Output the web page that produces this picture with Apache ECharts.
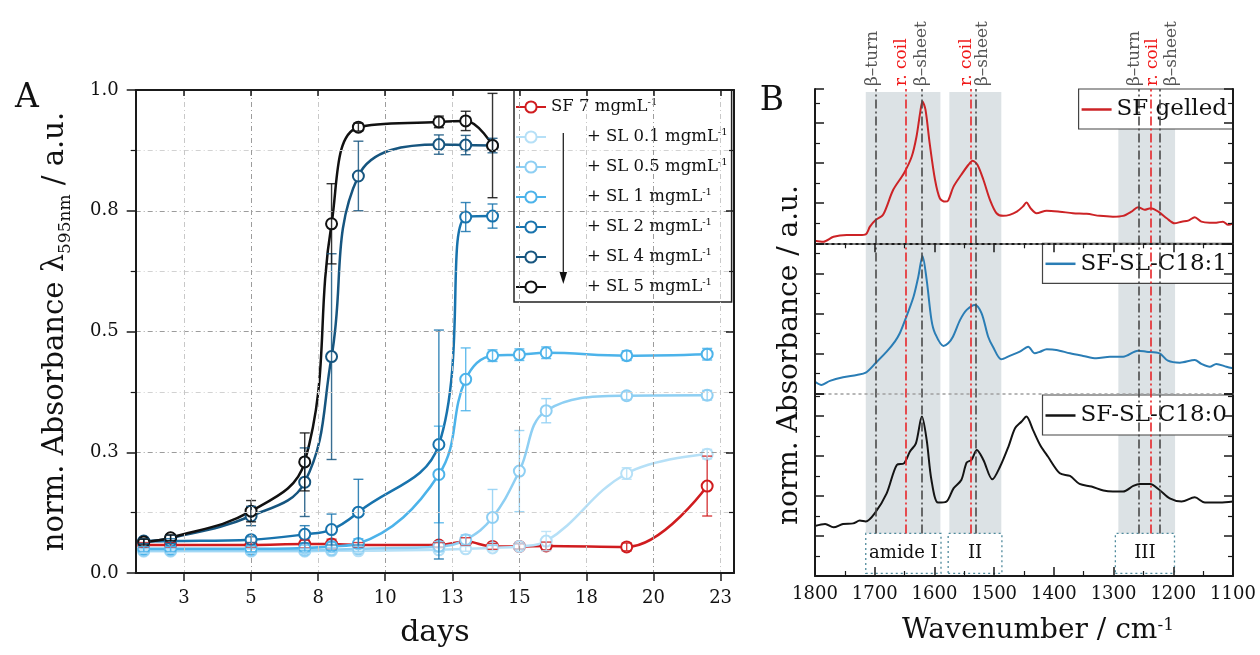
<!DOCTYPE html>
<html>
<head>
<meta charset="utf-8">
<script src="https://cdn.jsdelivr.net/npm/echarts@6/dist/echarts.min.js"></script>
<style>
html, body { margin: 0; padding: 0; background: #fff; }
#chart { width: 1260px; height: 655px; }
</style>
</head>
<body>
<div id="chart"></div>
<script>
var FONT = "'DejaVu Serif', 'Liberation Serif', serif"

// ---- panel A : absorbance over days ----
var days = [1, 2, 5, 7, 8, 9, 12, 13, 14, 15, 16, 19, 22]
var dayTicks = [2.5, 5, 7.5, 10, 12.5, 15, 17.5, 20, 22.5]

var sf7 = [0.058, 0.058, 0.058, 0.06, 0.06, 0.058, 0.058, 0.065, 0.055, 0.055, 0.056, 0.054, 0.18]
var sf7Err = [0.005, 0.005, 0.005, 0.008, 0.01, 0.005, 0.005, 0.008, 0.006, 0.006, 0.008, 0.008, 0.062]
var sl01 = [0.045, 0.045, 0.045, 0.045, 0.046, 0.046, 0.048, 0.05, 0.052, 0.055, 0.066, 0.206, 0.246]
var sl01Err = [0.004, 0.004, 0.004, 0.004, 0.004, 0.004, 0.005, 0.005, 0.006, 0.006, 0.02, 0.012, 0.01]
var sl05 = [0.047, 0.047, 0.047, 0.047, 0.048, 0.05, 0.055, 0.069, 0.115, 0.211, 0.336, 0.367, 0.368]
var sl05Err = [0.004, 0.004, 0.004, 0.004, 0.005, 0.005, 0.01, 0.01, 0.058, 0.084, 0.025, 0.008, 0.01]
var sl1 = [0.05, 0.05, 0.05, 0.052, 0.055, 0.061, 0.204, 0.401, 0.45, 0.452, 0.456, 0.45, 0.453]
var sl1Err = [0.005, 0.005, 0.006, 0.006, 0.008, 0.01, 0.1, 0.065, 0.012, 0.012, 0.012, 0.01, 0.012]
var sl2 = [0.065, 0.066, 0.069, 0.08, 0.09, 0.126, 0.266, 0.737, 0.739]
var sl2Err = [0.005, 0.005, 0.006, 0.018, 0.032, 0.068, 0.237, 0.03, 0.025]
var sl4 = [0.066, 0.072, 0.118, 0.188, 0.448, 0.822, 0.887, 0.886, 0.885]
var sl4Err = [0.005, 0.006, 0.02, 0.071, 0.213, 0.072, 0.02, 0.02, 0.015]
var sl5 = [0.064, 0.073, 0.128, 0.23, 0.723, 0.923, 0.934, 0.936, 0.885]
var sl5Err = [0.006, 0.006, 0.022, 0.06, 0.083, 0.008, 0.012, 0.02, 0.108]

var namesA = ['SF 7', '+ SL 0.1', '+ SL 0.5', '+ SL 1', '+ SL 2', '+ SL 4', '+ SL 5']
var colorsA = ['#d01c1f', '#b6e0f7', '#8ecff3', '#4cb3ea', '#1873ad', '#16557f', '#111111']

// ---- panel B : FTIR spectra ----
var wnGel = [1800, 1786, 1769, 1747, 1725, 1715, 1708, 1698, 1686, 1669, 1651, 1638, 1630, 1624, 1620, 1615, 1608, 1599, 1591, 1582, 1577, 1568, 1555, 1543, 1536, 1528, 1518, 1507, 1496, 1485, 1474, 1462, 1452, 1446, 1439, 1429, 1412, 1390, 1368, 1345, 1323, 1301, 1284, 1270, 1259, 1248, 1238, 1225, 1211, 1198, 1186, 1175, 1164, 1153, 1139, 1128, 1117, 1108, 1100]
var absGel = [0.13, 0.08, 0.33, 0.42, 0.42, 0.45, 0.83, 1.17, 1.42, 2.67, 3.5, 4.33, 5.33, 6.5, 7.08, 6.67, 5.0, 3.17, 2.25, 2.08, 2.13, 2.83, 3.42, 3.92, 4.12, 3.92, 3.17, 2.17, 1.5, 1.37, 1.42, 1.58, 1.83, 2.03, 1.75, 1.5, 1.63, 1.58, 1.5, 1.47, 1.37, 1.33, 1.37, 1.58, 1.8, 1.67, 1.75, 1.58, 1.25, 1.0, 1.08, 1.13, 1.3, 1.08, 1.03, 1.03, 1.08, 0.92, 1.0]
var wnC181 = [1800, 1789, 1775, 1753, 1730, 1715, 1698, 1680, 1666, 1658, 1649, 1635, 1627, 1620, 1613, 1605, 1599, 1585, 1577, 1569, 1557, 1546, 1532, 1521, 1510, 1502, 1488, 1474, 1457, 1443, 1432, 1423, 1412, 1396, 1373, 1351, 1329, 1306, 1284, 1259, 1245, 1223, 1209, 1189, 1164, 1153, 1139, 1128, 1111, 1100]
var absC181 = [0.58, 0.42, 0.62, 0.8, 0.92, 1.03, 1.53, 2.08, 2.6, 3.0, 3.67, 4.83, 5.83, 6.87, 5.67, 3.67, 3.0, 2.37, 2.5, 2.83, 3.67, 4.17, 4.42, 4.0, 2.83, 2.33, 1.7, 1.87, 2.08, 2.33, 2.0, 2.08, 2.2, 2.17, 2.0, 1.87, 1.75, 1.83, 1.83, 2.13, 2.08, 2.0, 1.63, 1.53, 1.67, 1.47, 1.33, 1.47, 1.33, 1.25]
var wnC180 = [1800, 1783, 1769, 1753, 1736, 1725, 1715, 1700, 1680, 1663, 1651, 1641, 1631, 1621, 1613, 1605, 1594, 1580, 1568, 1555, 1546, 1538, 1529, 1518, 1503, 1490, 1476, 1465, 1454, 1446, 1435, 1423, 1410, 1390, 1373, 1357, 1337, 1317, 1301, 1284, 1267, 1256, 1239, 1223, 1206, 1186, 1164, 1147, 1122, 1100]
var absC180 = [2.5, 2.6, 2.43, 2.6, 2.63, 2.77, 2.72, 3.13, 4.13, 5.55, 5.63, 6.22, 6.63, 7.97, 6.8, 4.8, 3.67, 3.72, 4.38, 4.8, 5.67, 5.8, 6.3, 5.8, 4.83, 5.47, 6.47, 7.38, 7.72, 7.97, 7.3, 6.55, 5.97, 5.13, 5.0, 4.6, 4.47, 4.27, 4.22, 4.22, 4.5, 4.6, 4.6, 4.3, 3.88, 3.72, 3.93, 3.67, 3.67, 3.72]

// shaded amide bands and their label boxes (cm-1)
var bandNames = ['amide I', 'II', 'III']
var bandFrom = [1715, 1575, 1292]
var bandTo = [1590, 1488, 1197]
var boxFrom = [1715, 1577, 1297]
var boxTo = [1589, 1487, 1198]
// assigned peaks: position, kind
var peakPos = [1698, 1648, 1621, 1540, 1530, 1258, 1238, 1222]
var peakRed = [false, true, false, true, false, false, true, false]

var myChart = echarts.init(document.getElementById('chart'))

function lineA(i, vals) {
  return {
    name: namesA[i],
    type: 'line',
    xAxisIndex: 0,
    yAxisIndex: 0,
    data: vals.map(function(v, k) { return [days[k], v] }),
    smooth: 0.4,
    symbol: 'emptyCircle',
    symbolSize: 11,
    lineStyle: { color: colorsA[i], width: 2.5 },
    itemStyle: { color: colorsA[i], borderWidth: 2 },
    z: 3
  }
}

function errA(i, vals, errs) {
  var col = colorsA[i]
  return {
    type: 'custom',
    xAxisIndex: 0,
    yAxisIndex: 0,
    z: 4,
    silent: true,
    data: vals.map(function(v, k) { return [days[k], v - errs[k], v + errs[k]] }),
    renderItem: function(params, api) {
      var top = api.coord([api.value(0), api.value(2)])
      var bot = api.coord([api.value(0), api.value(1)])
      var w = 5
      var st = { stroke: col, lineWidth: 1.4, opacity: 0.85 }
      return {
        type: 'group',
        children: [
          { type: 'line', shape: { x1: top[0], y1: top[1], x2: bot[0], y2: bot[1] }, style: st },
          { type: 'line', shape: { x1: top[0] - w, y1: top[1], x2: top[0] + w, y2: top[1] }, style: st },
          { type: 'line', shape: { x1: bot[0] - w, y1: bot[1], x2: bot[0] + w, y2: bot[1] }, style: st }
        ]
      }
    }
  }
}

function spectrum(name, color, xi, yi, wn, ab) {
  return {
    name: name,
    type: 'line',
    xAxisIndex: xi,
    yAxisIndex: yi,
    data: wn.map(function(w, k) { return [w, ab[k]] }),
    smooth: 0.3,
    symbol: 'none',
    lineStyle: { color: color, width: 2 },
    itemStyle: { color: color },
    z: 3
  }
}

var blk = { color: '#1a1a1a', width: 2 }
var gridDash = [5, 3, 1, 3]

// x axes of panel B; grids 1..3 are the stacked layers, 4 is the overlay
function xB(gi, pos, opt) {
  var a = {
    gridIndex: gi,
    type: 'value',
    position: pos,
    min: 1100,
    max: 1800,
    inverse: true,
    interval: 100,
    z: 5,
    axisLine: { show: false },
    axisTick: { show: false },
    axisLabel: { show: false },
    splitLine: { show: false }
  }
  return Object.assign(a, opt || {})
}
var tickB = { show: true, inside: true, length: 9, lineStyle: { color: '#1a1a1a', width: 1.5 } }
var minorB = { show: true, splitNumber: 2, length: 5, lineStyle: { color: '#1a1a1a', width: 1.2 } }
var dotted = { show: true, onZero: false, lineStyle: { color: '#a0a0a0', width: 1.5, type: [2, 4] } }

function yB(gi, pos, max) {
  return {
    gridIndex: gi,
    type: 'value',
    position: pos,
    min: 0,
    max: max,
    interval: 2,
    z: 5,
    axisLine: { show: true, lineStyle: blk },
    axisTick: tickB,
    minorTick: minorB,
    axisLabel: { show: false },
    splitLine: { show: false }
  }
}

var bandAreas = bandNames.map(function(n, k) {
  return [{ xAxis: bandFrom[k], yAxis: 2.13 }, { xAxis: bandTo[k], yAxis: 24.2 }]
})
var boxAreas = bandNames.map(function(n, k) {
  return [{ name: n, xAxis: boxFrom[k], yAxis: 0.13 }, { xAxis: boxTo[k], yAxis: 2.13 }]
})
var peakLines = peakPos.map(function(p, k) {
  return [
    { xAxis: p, yAxis: 2.13, lineStyle: { color: peakRed[k] ? '#e8262a' : '#4a4a4a' } },
    { xAxis: p, yAxis: 24.35 }
  ]
})

var labelsTop = [
  ['β–turn', 873, false], ['r. coil', 902, true], ['β–sheet', 922, false],
  ['r. coil', 967, true], ['β–sheet', 983, false],
  ['β–turn', 1135, false], ['r. coil', 1153, true], ['β–sheet', 1172, false]
]

function legendB(name, top) {
  return {
    data: [name], right: 27, top: top, icon: 'rect', itemWidth: 30, itemHeight: 2.5,
    padding: [9, 6, 8, 3], selectedMode: false, backgroundColor: '#fff',
    borderColor: '#444', borderWidth: 1.2,
    textStyle: { fontFamily: FONT, fontSize: 23, color: '#111' }
  }
}

var option = {
  animation: false,
  backgroundColor: '#fff',
  textStyle: { fontFamily: FONT },
  grid: [
    { left: 135.7, right: 526, top: 90, bottom: 82 },
    { left: 815, right: 27, top: 89, height: 154.3 },
    { left: 815, right: 27, top: 243.3, height: 150 },
    { left: 815, right: 27, top: 393.3, height: 182.7 },
    { left: 815, right: 27, top: 89, height: 487 }
  ],
  legend: [
    {
      data: namesA,
      orient: 'vertical',
      left: 514,
      top: 90,
      itemWidth: 30,
      itemHeight: 14,
      itemGap: 10,
      padding: [7, 4, 5, 1],
      selectedMode: false,
      backgroundColor: '#fff',
      borderColor: '#222',
      borderWidth: 1.5,
      borderRadius: 0,
      textStyle: {
        fontFamily: FONT,
        fontSize: 16.5,
        color: '#111',
        lineHeight: 20,
        rich: {
          sup: { fontFamily: FONT, fontSize: 10, verticalAlign: 'top', lineHeight: 12, color: '#111' },
          pad: { width: 36 }
        }
      },
      formatter: function(name) {
        var pad = name.indexOf('SL') >= 0 ? '{pad| }' : ''
        return pad + name + ' mgmL{sup|-1}'
      }
    },
    legendB('SF gelled', 89),
    legendB('SF-SL-C18:1', 243.3),
    legendB('SF-SL-C18:0', 395)
  ],
  xAxis: [
    // 0: panel A bottom
    {
      gridIndex: 0, type: 'value', position: 'bottom', min: 0.7, max: 23, z: 5,
      name: 'days', nameLocation: 'middle', nameGap: 45,
      nameTextStyle: { fontFamily: FONT, fontSize: 30, color: '#111' },
      axisLine: { show: true, onZero: false, lineStyle: blk },
      axisTick: { show: true, inside: false, length: 8, customValues: dayTicks, lineStyle: { color: '#1a1a1a', width: 1.5 } },
      axisLabel: {
        customValues: dayTicks, margin: 16, fontFamily: FONT, fontSize: 18, color: '#111',
        formatter: function(v) { return Math.round(v) }
      },
      splitLine: { show: true, lineStyle: { color: ['#c8c8c8', '#9c9c9c'], width: 1, type: gridDash } }
    },
    // 1: panel A top
    {
      gridIndex: 0, type: 'value', position: 'top', min: 0.7, max: 23, z: 5,
      axisLine: { show: true, onZero: false, lineStyle: blk },
      axisTick: { show: true, inside: true, length: 6, customValues: dayTicks, lineStyle: { color: '#1a1a1a', width: 1.5 } },
      axisLabel: { show: false },
      splitLine: { show: false }
    },
    // 2..5: panel B layers, 6: overlay
    xB(1, 'top', { axisLine: { show: true, lineStyle: blk }, axisTick: tickB, minorTick: minorB }),
    xB(1, 'bottom', { axisLine: dotted }),
    xB(2, 'bottom', { axisLine: dotted }),
    xB(3, 'bottom', {
      axisLine: { show: true, onZero: false, lineStyle: blk },
      axisTick: tickB,
      minorTick: minorB,
      axisLabel: {
        show: true, margin: 9, fontFamily: FONT, fontSize: 18, color: '#111',
        formatter: function(v) { return String(v) }
      }
    }),
    xB(4, 'bottom', { show: false })
  ],
  yAxis: [
    {
      gridIndex: 0, type: 'value', position: 'left', min: 0, max: 1, interval: 0.25, z: 5,
      name: 'norm. Absorbance λ{sub|595nm} / a.u.', nameLocation: 'middle', nameGap: 62, nameRotate: 90,
      nameTextStyle: {
        fontFamily: FONT, fontSize: 29, color: '#111', lineHeight: 36,
        rich: { sub: { fontFamily: FONT, fontSize: 17, color: '#111', verticalAlign: 'bottom', lineHeight: 24 } }
      },
      axisLine: { show: true, lineStyle: blk },
      axisTick: { show: true, inside: false, length: 9, lineStyle: { color: '#1a1a1a', width: 1.5 } },
      minorTick: { show: true, splitNumber: 2, length: 5, lineStyle: { color: '#1a1a1a', width: 1.2 } },
      axisLabel: {
        margin: 17, fontFamily: FONT, fontSize: 18, color: '#111',
        formatter: function(v) { return v.toFixed(1) }
      },
      splitLine: { show: true, lineStyle: { color: '#9c9c9c', width: 1, type: gridDash } },
      minorSplitLine: { show: true, lineStyle: { color: '#d2d2d2', width: 1, type: gridDash } }
    },
    {
      gridIndex: 0, type: 'value', position: 'right', min: 0, max: 1, interval: 0.25, z: 5,
      axisLine: { show: true, lineStyle: blk },
      axisTick: { show: true, inside: true, length: 8, lineStyle: { color: '#1a1a1a', width: 1.5 } },
      minorTick: { show: true, splitNumber: 2, length: 5, lineStyle: { color: '#1a1a1a', width: 1.2 } },
      axisLabel: { show: false },
      splitLine: { show: false }
    },
    yB(1, 'left', 7.7), yB(1, 'right', 7.7),
    yB(2, 'left', 7.5), yB(2, 'right', 7.5),
    yB(3, 'left', 9.13), yB(3, 'right', 9.13),
    { gridIndex: 4, type: 'value', min: 0, max: 24.35, show: false }
  ],
  graphic: [
    { type: 'text', x: 27, y: 98, style: { text: 'A', font: '33px ' + FONT, fill: '#111', align: 'center', verticalAlign: 'middle' } },
    { type: 'text', x: 772, y: 101, style: { text: 'B', font: '33px ' + FONT, fill: '#111', align: 'center', verticalAlign: 'middle' } },
    {
      type: 'text', x: 790, y: 355, rotation: Math.PI / 2,
      style: { text: 'norm. Absorbance / a.u.', font: '28px ' + FONT, fill: '#111', align: 'center', verticalAlign: 'middle' }
    },
    {
      type: 'text', x: 1038, y: 631,
      style: {
        text: 'Wavenumber / cm{sup|-1}', font: '28px ' + FONT, fill: '#111', align: 'center', verticalAlign: 'middle',
        rich: { sup: { font: '17px ' + FONT, fill: '#111', verticalAlign: 'top', lineHeight: 14 } }
      }
    },
    // arrow inside legend A
    { type: 'line', z: 100, shape: { x1: 563.3, y1: 133, x2: 563.3, y2: 276 }, style: { stroke: '#222', lineWidth: 1.3 } },
    { type: 'polygon', z: 100, shape: { points: [[559.5, 272], [567.1, 272], [563.3, 284]] }, style: { fill: '#111' } }
  ].concat(labelsTop.map(function(l) {
    return {
      type: 'text', x: l[1], y: 86, rotation: Math.PI / 2,
      style: { text: l[0], font: '17px ' + FONT, fill: l[2] ? '#f01818' : '#555', align: 'left', verticalAlign: 'middle' }
    }
  })),
  series: [
    // overlay: bands, boxes, peak lines
    {
      type: 'line', xAxisIndex: 6, yAxisIndex: 8, data: [], z: 1, silent: true,
      markArea: {
        silent: true,
        itemStyle: { color: '#dce2e5' },
        label: { show: false },
        data: bandAreas
      }
    },
    {
      type: 'line', xAxisIndex: 6, yAxisIndex: 8, data: [], z: 2, silent: true,
      markArea: {
        silent: true,
        itemStyle: { color: 'rgba(255,255,255,0)', borderColor: '#4f8a9c', borderWidth: 1.3, borderType: [2, 3] },
        label: { show: true, position: 'inside', fontFamily: FONT, fontSize: 18, color: '#111' },
        data: boxAreas
      },
      markLine: {
        silent: true,
        symbol: 'none',
        label: { show: false },
        lineStyle: { width: 1.6, type: [9, 3, 2, 3] },
        data: peakLines
      }
    },
    spectrum('SF gelled', '#cc2326', 2, 2, wnGel, absGel),
    spectrum('SF-SL-C18:1', '#2a7db5', 4, 4, wnC181, absC181),
    spectrum('SF-SL-C18:0', '#141414', 5, 6, wnC180, absC180),
    lineA(0, sf7), lineA(1, sl01), lineA(2, sl05), lineA(3, sl1),
    lineA(4, sl2), lineA(5, sl4), lineA(6, sl5),
    errA(0, sf7, sf7Err), errA(1, sl01, sl01Err), errA(2, sl05, sl05Err), errA(3, sl1, sl1Err),
    errA(4, sl2, sl2Err), errA(5, sl4, sl4Err), errA(6, sl5, sl5Err)
  ]
}

myChart.setOption(option)
window.onresize = function() {
  myChart.resize()
}
</script>
</body>
</html>
